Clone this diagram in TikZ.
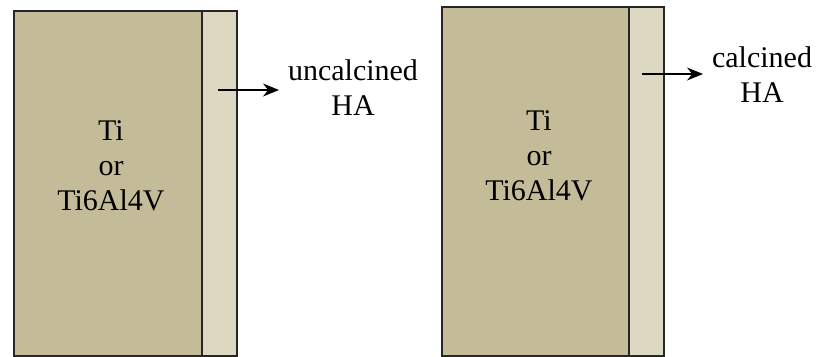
\documentclass[tikz,border=0pt]{standalone}
\usepackage{fontspec}
\setmainfont{Liberation Serif}
\usetikzlibrary{arrows.meta}
\definecolor{metal}{HTML}{C4BC98}
\definecolor{coat}{HTML}{DDD8C2}
\begin{document}
\begin{tikzpicture}[x=1pt,y=-1pt,
  layer/.style={draw=black!85, line width=1.6pt, inner sep=0pt, anchor=north west},
  lbl/.style={align=center, anchor=base, inner sep=0pt, font=\fontsize{30}{35}\selectfont},
  arr/.style={line width=1.6pt, -{Stealth[length=16pt,width=13pt]}}]
\useasboundingbox (0,0) rectangle (821,356);
% left sample
\node (sub1) [layer, fill=metal, minimum width=188pt, minimum height=345pt] at (13,10) {};
\node (coat1) [layer, fill=coat, minimum width=35pt, minimum height=345pt] at (201,10) {};
\node (mat1) [lbl] at (111,210) {Ti\\or\\Ti6Al4V};
\coordinate (s1) at (218,90);
\node (ha1) [lbl] at (353,115) {uncalcined\\HA};
\coordinate (e1) at (279,90);
\draw[arr] (s1) -- (e1);
% right sample
\node (sub2) [layer, fill=metal, minimum width=187pt, minimum height=349pt] at (441,6) {};
\node (coat2) [layer, fill=coat, minimum width=35pt, minimum height=349pt] at (628,6) {};
\node (mat2) [lbl] at (539,200) {Ti\\or\\Ti6Al4V};
\coordinate (s2) at (642,74);
\node (ha2) [lbl] at (762,102) {calcined\\HA};
\coordinate (e2) at (703,74);
\draw[arr] (s2) -- (e2);
\end{tikzpicture}
\end{document}
